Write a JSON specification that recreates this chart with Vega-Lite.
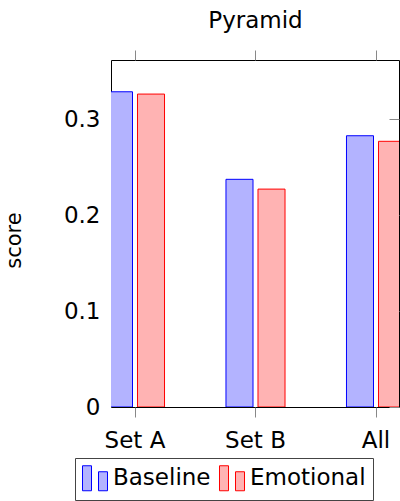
{
  "$schema": "https://vega.github.io/schema/vega-lite/v6.json",
  "autosize": "none",
  "width": 288,
  "height": 347,
  "padding": {"left": 111, "top": 60, "right": 1, "bottom": 94},
  "background": "white",
  "config": {
    "font": "DejaVu Sans",
    "view": {"stroke": "black", "strokeWidth": 1}
  },
  "data": {
    "values": [
      {"set": "Set A", "method": "Baseline", "score": 0.3284},
      {"set": "Set A", "method": "Emotional", "score": 0.326},
      {"set": "Set B", "method": "Baseline", "score": 0.2372},
      {"set": "Set B", "method": "Emotional", "score": 0.227},
      {"set": "All", "method": "Baseline", "score": 0.2826},
      {"set": "All", "method": "Emotional", "score": 0.2768}
    ]
  },
  "resolve": {"axis": {"x": "independent", "y": "independent"}},
  "layer": [
    {
      "mark": {"type": "bar", "clip": true, "strokeWidth": 1},
      "encoding": {
        "x": {
          "field": "set", "type": "nominal", "sort": ["Set A", "Set B", "All"],
          "scale": {"range": [-36.25, 325.25], "paddingInner": 0, "paddingOuter": 0},
          "axis": {"orient": "bottom", "title": null, "labelAngle": 0, "labelFontSize": 23, "labelColor": "black",
                   "domain": false, "tickColor": "#888888", "tickSize": 10, "labelPadding": 12}
        },
        "xOffset": {
          "field": "method", "type": "nominal",
          "scale": {"paddingInner": 0.156, "paddingOuter": 0.96}
        },
        "y": {
          "field": "score", "type": "quantitative",
          "scale": {"domain": [0, 0.3615], "nice": false, "zero": true},
          "axis": {"orient": "left", "values": [0, 0.1, 0.2, 0.3], "format": ".1~f", "grid": false, "domain": false,
                   "ticks": false, "labelPadding": 11, "labelFontSize": 23, "labelColor": "black",
                   "title": "score", "titleFontSize": 21, "titleFontWeight": "normal", "titleColor": "black",
                   "titleX": -97, "titleY": 180, "titleAngle": 270, "titleAlign": "center", "titleBaseline": "middle"}
        },
        "fill": {
          "field": "method", "type": "nominal",
          "scale": {"domain": ["Baseline", "Emotional"], "range": ["#b3b3ff", "#ffb3b3"]},
          "legend": {
            "title": null, "orient": "none", "direction": "horizontal",
            "legendX": -36, "legendY": 398,
            "strokeColor": "#444444", "padding": 7,
            "labelFontSize": 23, "labelColor": "black", "labelOffset": 5, "columnPadding": 6,
            "symbolType": "M -1 -1 H -0.28 V 1 H -1 Z M 0.28 -0.52 H 1 V 1 H 0.28 Z",
            "symbolSize": 625, "symbolStrokeWidth": 1
          }
        },
        "stroke": {
          "field": "method", "type": "nominal",
          "scale": {"domain": ["Baseline", "Emotional"], "range": ["blue", "red"]},
          "legend": null
        }
      }
    },
    {
      "mark": {"type": "bar", "opacity": 0},
      "encoding": {
        "x": {
          "field": "set", "type": "nominal", "sort": ["Set A", "Set B", "All"],
          "axis": {"orient": "top", "labels": false, "domain": false, "tickColor": "#888888", "tickSize": 10,
                   "title": "Pyramid", "titleFontSize": 23, "titleFontWeight": "normal", "titleColor": "black",
                   "titleX": 144, "titleY": -33, "titleAlign": "center", "titleBaseline": "alphabetic"}
        },
        "y": {
          "field": "score", "type": "quantitative",
          "axis": {"orient": "right", "values": [0, 0.1, 0.2, 0.3], "labels": false, "grid": false, "domain": false,
                   "tickColor": "#888888", "tickSize": -10, "title": null}
        }
      }
    }
  ]
}
